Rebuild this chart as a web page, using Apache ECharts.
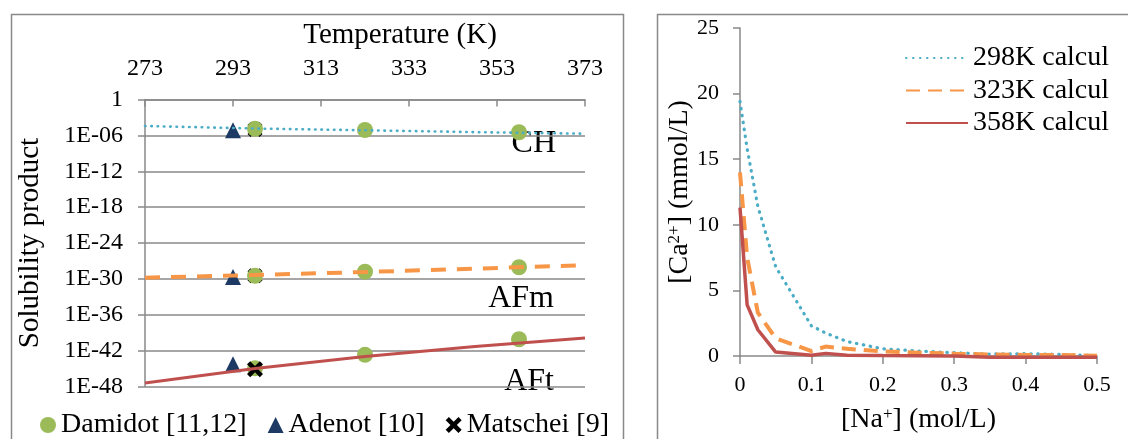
<!DOCTYPE html>
<html>
<head>
<meta charset="utf-8">
<script src="https://cdn.jsdelivr.net/npm/echarts@6/dist/echarts.min.js"></script>
<style>
html,body{margin:0;padding:0;background:#fff;}
#c{width:1128px;height:439px;}
</style>
</head>
<body>
<div id="c"></div>
<script>
// ---------- Left panel: solubility products vs temperature ----------
const tempTicks = [273, 293, 313, 333, 353, 373];
const yTickLabels = ['1E-48', '1E-42', '1E-36', '1E-30', '1E-24', '1E-18', '1E-12', '1E-06', '1'];

const lineT = [273, 298, 323, 348, 373];
const chLine = [3.7e-5, 1.4e-5, 7.1e-6, 3.5e-6, 1.9e-6];
const afmLine = [1.6e-30, 4.5e-30, 1.4e-29, 5.0e-29, 2.0e-28];
const aftLine = [4.0e-48, 1.0e-45, 1.0e-43, 5.0e-42, 1.26e-40];

const damidotT = [298, 323, 358];
const damidotCH = [1.26e-5, 7.9e-6, 3.3e-6];
const damidotAFm = [3.2e-30, 1.6e-29, 8.7e-29];
const damidotAFt = [1.1e-45, 2.0e-43, 7.9e-41];

const adenotT = 293;
const adenotKsp = [7.1e-6, 2.0e-30, 5.2e-45];     // CH, AFm, AFt

const matscheiT = 298;
const matscheiKsp = [1.0e-5, 3.2e-30, 7.9e-46];  // CH, AFm, AFt

const curveLabels = ['CH', 'AFm', 'AFt'];

// ---------- Right panel: [Ca2+] vs [Na+] ----------
const naConc = [0, 0.01, 0.025, 0.05, 0.1, 0.12, 0.15, 0.2, 0.25, 0.3, 0.35, 0.4, 0.45, 0.5];
const ca298 = [19.4, 15.8, 11.4, 6.8, 2.3, 1.75, 1.1, 0.55, 0.38, 0.25, 0.15, 0.18, 0.12, 0.02];
const ca323 = [14.0, 7.5, 3.3, 1.35, 0.38, 0.72, 0.55, 0.35, 0.25, 0.18, 0.12, 0.08, 0.08, 0.02];
const ca358 = [11.3, 3.9, 2.0, 0.3, 0.05, 0.2, 0.05, 0.03, 0.02, 0.0, -0.1, -0.1, -0.1, -0.1];
const rightNames = ['298K calcul', '323K calcul', '358K calcul'];

// ---------- helpers ----------
const FONT = '"Liberation Serif", "Times New Roman", serif';
const GRAY = '#898989';
const BLUE = '#4bacc6', ORANGE = '#f79646', RED = '#c0504d', GREEN = '#9bbb59', NAVY = '#1c3a63';
const T0 = tempTicks[0];
const pt = (T, k) => [T - T0, Math.log10(k)];
const xPath = 'path://M2,0 L5,3 L8,0 L10,2 L7,5 L10,8 L8,10 L5,7 L2,10 L0,8 L3,5 L0,2 Z';

const chart = echarts.init(document.getElementById('c'), null, {renderer: 'canvas', devicePixelRatio: 1});

const option = {
  animation: false,
  backgroundColor: '#fff',
  textStyle: {fontFamily: FONT, color: '#000'},
  grid: [
    {left: 145, top: 99.5, width: 440, height: 287},
    {left: 740, top: 28, width: 357, height: 331}
  ],
  xAxis: [
    {
      gridIndex: 0, type: 'value', position: 'top',
      min: 0, max: 100, interval: 20,
      name: 'Temperature (K)', nameLocation: 'middle', nameGap: 50, nameMoveOverlap: false,
      nameTextStyle: {fontFamily: FONT, fontSize: 29, color: '#000', padding: [0, 0, 0, 70]},
      axisLine: {show: true, lineStyle: {color: GRAY, width: 1.5}},
      axisTick: {show: true, inside: true, length: 7, lineStyle: {color: GRAY, width: 1.5}},
      axisLabel: {fontFamily: FONT, fontSize: 24, color: '#000', margin: 19,
        formatter: v => String(tempTicks[Math.round(v / 20)])},
      splitLine: {show: false}
    },
    {
      gridIndex: 1, type: 'value', position: 'bottom',
      min: 0, max: 0.5, interval: 0.1,
      name: '[Na{sup|+}] (mol/L)', nameLocation: 'middle', nameGap: 50, nameMoveOverlap: false,
      nameTextStyle: {fontFamily: FONT, fontSize: 28, color: '#000',
        rich: {sup: {fontFamily: FONT, fontSize: 17, verticalAlign: 'top', color: '#000'}}},
      axisLine: {show: true, onZero: false, lineStyle: {color: GRAY, width: 1.5}},
      axisTick: {show: true, length: 8, lineStyle: {color: GRAY, width: 1.5}},
      axisLabel: {fontFamily: FONT, fontSize: 22, color: '#000', margin: 18},
      splitLine: {show: false}
    }
  ],
  yAxis: [
    {
      gridIndex: 0, type: 'value', min: -48, max: 0, interval: 6,
      name: 'Solubility product', nameLocation: 'middle', nameGap: 100, nameRotate: 90, nameMoveOverlap: false,
      nameTextStyle: {fontFamily: FONT, fontSize: 29, color: '#000'},
      axisLine: {show: true, lineStyle: {color: GRAY, width: 1.5}},
      axisTick: {show: true, length: 7, lineStyle: {color: GRAY, width: 1.5}},
      axisLabel: {fontFamily: FONT, fontSize: 24, color: '#000', margin: 22,
        formatter: v => yTickLabels[Math.round((v + 48) / 6)]},
      splitLine: {show: true, lineStyle: {color: GRAY, width: 1.5}}
    },
    {
      gridIndex: 1, type: 'value', min: 0, max: 25, interval: 5,
      name: '[Ca{sup|2+}] (mmol/L)', nameLocation: 'middle', nameGap: 46, nameRotate: 90, nameMoveOverlap: false,
      nameTextStyle: {fontFamily: FONT, fontSize: 28, color: '#000',
        rich: {sup: {fontFamily: FONT, fontSize: 17, verticalAlign: 'top', color: '#000'}}},
      axisLine: {show: true, lineStyle: {color: GRAY, width: 1.5}},
      axisTick: {show: true, length: 7, lineStyle: {color: GRAY, width: 1.5}},
      axisLabel: {fontFamily: FONT, fontSize: 22, color: '#000', margin: 21},
      splitLine: {show: false}
    }
  ],
  legend: [
    {
      left: 35, top: 406, orient: 'horizontal',
      itemWidth: 16, itemHeight: 16, itemGap: 21,
      selectedMode: false,
      textStyle: {fontFamily: FONT, fontSize: 28, color: '#000', lineHeight: 28},
      data: [
        {name: 'Damidot [11,12]', icon: 'circle'},
        {name: 'Adenot [10]', icon: 'triangle'},
        {name: 'Matschei [9]', icon: xPath}
      ]
    },
    {
      left: 900, top: 39, orient: 'vertical',
      itemWidth: 62, itemHeight: 14, itemGap: 4.5,
      selectedMode: false,
      itemStyle: {opacity: 0},
      textStyle: {fontFamily: FONT, fontSize: 28, color: '#000', lineHeight: 28},
      data: rightNames
    }
  ],
  series: [
    // left: calculated curves
    {type: 'line', name: 'CH', xAxisIndex: 0, yAxisIndex: 0, symbol: 'none', silent: true,
      itemStyle: {color: BLUE}, data: lineT.map((T, i) => pt(T, chLine[i])),
      lineStyle: {color: BLUE, width: 2.6, type: [0.5, 5.8], cap: 'round'}},
    {type: 'line', name: 'AFm', xAxisIndex: 0, yAxisIndex: 0, symbol: 'none', silent: true,
      itemStyle: {color: ORANGE}, data: lineT.map((T, i) => pt(T, afmLine[i])),
      lineStyle: {color: ORANGE, width: 4, type: [15, 11]}},
    {type: 'line', name: 'AFt', xAxisIndex: 0, yAxisIndex: 0, symbol: 'none', silent: true,
      itemStyle: {color: RED}, data: lineT.map((T, i) => pt(T, aftLine[i])),
      lineStyle: {color: RED, width: 3}},
    // Matschei (CH, AFm) drawn behind the Damidot markers
    {type: 'scatter', name: 'Matschei [9]', xAxisIndex: 0, yAxisIndex: 0,
      symbol: xPath, symbolSize: 15, itemStyle: {color: '#000', opacity: 1},
      data: [pt(matscheiT, matscheiKsp[0]), pt(matscheiT, matscheiKsp[1])]},
    {type: 'scatter', name: 'Damidot [11,12]', xAxisIndex: 0, yAxisIndex: 0,
      symbol: 'circle', symbolSize: 16, itemStyle: {color: GREEN, opacity: 1},
      data: [].concat(
        damidotT.map((T, i) => pt(T, damidotCH[i])),
        damidotT.map((T, i) => pt(T, damidotAFm[i])),
        damidotT.map((T, i) => pt(T, damidotAFt[i])))},
    {type: 'scatter', name: 'Adenot [10]', xAxisIndex: 0, yAxisIndex: 0,
      symbol: 'triangle', symbolSize: 16, itemStyle: {color: NAVY, opacity: 1},
      data: adenotKsp.map(k => pt(adenotT, k))},
    // Matschei AFt drawn on top
    {type: 'scatter', name: 'Matschei [9]', xAxisIndex: 0, yAxisIndex: 0,
      symbol: xPath, symbolSize: 16, itemStyle: {color: '#000', opacity: 1},
      data: [pt(matscheiT, matscheiKsp[2])]},
    // right panel
    {type: 'line', name: rightNames[0], xAxisIndex: 1, yAxisIndex: 1, symbol: 'none', clip: false,
      itemStyle: {color: BLUE}, data: naConc.map((x, i) => [x, ca298[i]]),
      lineStyle: {color: BLUE, width: 3.2, type: [0.5, 6.5], cap: 'round'}},
    {type: 'line', name: rightNames[1], xAxisIndex: 1, yAxisIndex: 1, symbol: 'none', clip: false,
      itemStyle: {color: ORANGE}, data: naConc.map((x, i) => [x, ca323[i]]),
      lineStyle: {color: ORANGE, width: 4, type: [14, 8]}},
    {type: 'line', name: rightNames[2], xAxisIndex: 1, yAxisIndex: 1, symbol: 'none', clip: false,
      itemStyle: {color: RED}, data: naConc.map((x, i) => [x, ca358[i]]),
      lineStyle: {color: RED, width: 3.5}}
  ],
  graphic: [
    {type: 'rect', left: 9, top: 12, silent: true,
      shape: {x: 0, y: 0, width: 612, height: 450},
      style: {fill: 'none', stroke: GRAY, lineWidth: 1.5}},
    {type: 'rect', left: 655, top: 12, silent: true,
      shape: {x: 0, y: 0, width: 490, height: 450},
      style: {fill: 'none', stroke: GRAY, lineWidth: 1.5}},
    {type: 'text', x: 556, y: 144, silent: true,
      style: {text: curveLabels[0], font: '32px ' + FONT, fill: '#000', align: 'right', verticalAlign: 'middle'}},
    {type: 'text', x: 554, y: 299, silent: true,
      style: {text: curveLabels[1], font: '32px ' + FONT, fill: '#000', align: 'right', verticalAlign: 'middle'}},
    {type: 'text', x: 554, y: 382, silent: true,
      style: {text: curveLabels[2], font: '32px ' + FONT, fill: '#000', align: 'right', verticalAlign: 'middle'}}
  ]
};
chart.setOption(option);
</script>
</body>
</html>
